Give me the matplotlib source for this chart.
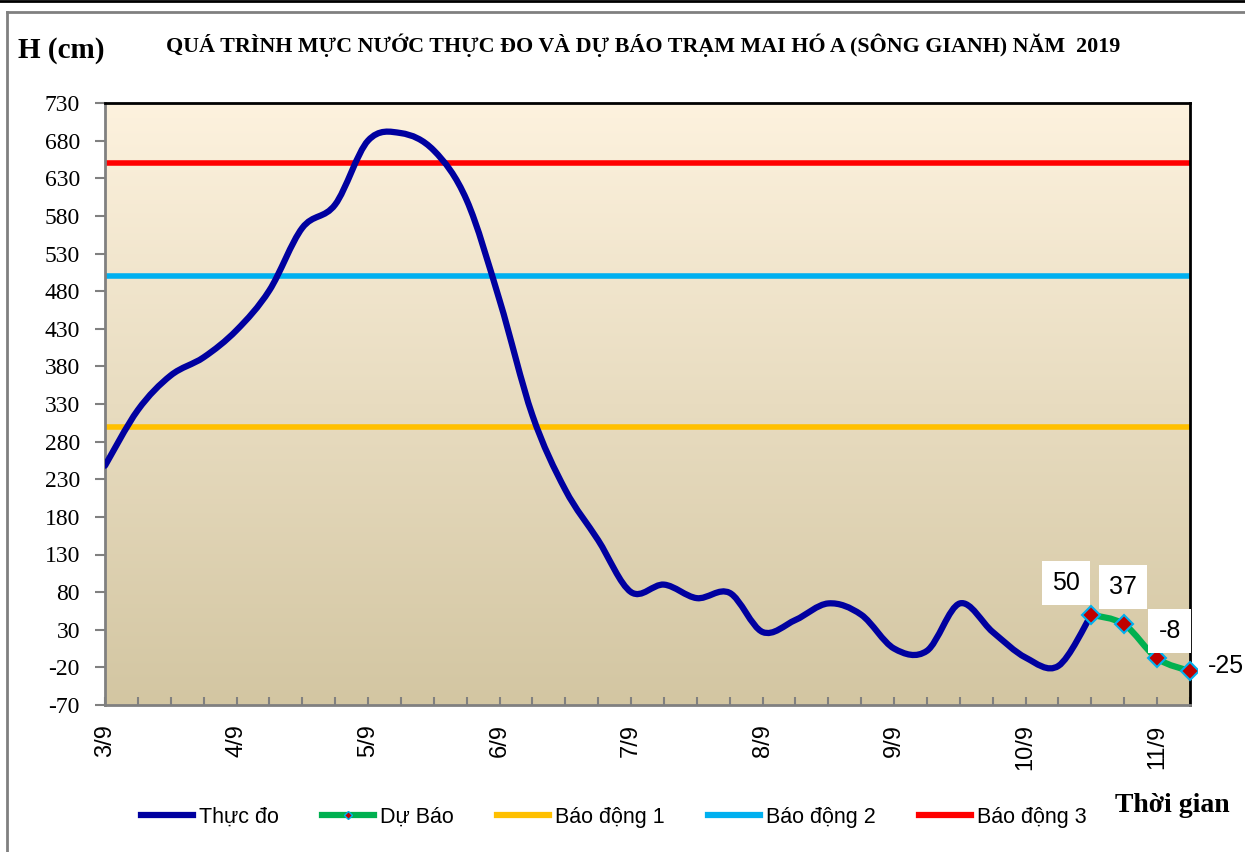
import numpy as np
import matplotlib.pyplot as plt
from matplotlib.path import Path
from matplotlib.patches import PathPatch
from matplotlib.lines import Line2D

# Muc nuoc thuc do (cm), moi diem cach nhau 6 gio, bat dau 3/9
thuc_do = [248, 322, 368, 392, 428, 481, 564, 595, 680, 690,
           667, 601, 468, 315, 216, 149, 80, 90, 72, 79,
           27, 43, 65, 50, 5, 2, 65, 27, -7, -18, 50]

# Du bao (cm), 4 diem cuoi
du_bao = [50, 37, -8, -25]
du_bao_start = 30

# Muc bao dong
bao_dong = [300, 500, 650]
bao_dong_names = ["Báo động 1", "Báo động 2", "Báo động 3"]
bao_dong_colors = ["#FFC000", "#00B0F0", "#FF0000"]

ngay = ["3/9", "4/9", "5/9", "6/9", "7/9", "8/9", "9/9", "10/9", "11/9"]
y_ticks = list(range(730, -71, -50))

SERIF = "Liberation Serif"
SANS = "Liberation Sans"


def smooth_path(xs, ys):
    # duong cong Bezier kieu "smoothed line" cua Excel
    pts = np.column_stack([xs, ys]).astype(float)
    n = len(pts)
    verts = [pts[0]]
    codes = [Path.MOVETO]
    for i in range(n - 1):
        p0 = pts[i - 1] if i > 0 else pts[i]
        p1 = pts[i]
        p2 = pts[i + 1]
        p3 = pts[i + 2] if i + 2 < n else pts[i + 1]
        c1 = p1 + (p2 - p0) / 6.0
        c2 = p2 - (p3 - p1) / 6.0
        verts += [c1, c2, p2]
        codes += [Path.CURVE4] * 3
    return Path(verts, codes)


fig = plt.figure(figsize=(12.45, 8.52), dpi=100)
ax = fig.add_axes([105 / 1245, 1 - 705 / 852, 1085 / 1245, 602 / 852])

# nen gradient
top = np.array([253, 242, 222]) / 255
bot = np.array([211, 198, 162]) / 255
t = np.linspace(0, 1, 256)[:, None]
grad = top * (1 - t) + bot * t
ax.imshow(grad[:, None, :], extent=[0, 33, -70, 730], aspect="auto",
          zorder=0, interpolation="bicubic")

# duong bao dong
for val, col in zip(bao_dong, bao_dong_colors):
    ax.axhline(val, color=col, lw=4, zorder=2)

# thuc do
x_td = np.arange(len(thuc_do))
ax.add_patch(PathPatch(smooth_path(x_td, thuc_do), fill=False,
                       edgecolor="#0000A0", lw=4.5, zorder=3,
                       capstyle="round", joinstyle="round"))

# du bao
x_db = np.arange(du_bao_start, du_bao_start + len(du_bao))
ax.add_patch(PathPatch(smooth_path(x_db, du_bao), fill=False,
                       edgecolor="#00B050", lw=4.5, zorder=4,
                       capstyle="round"))
ax.plot(x_db, du_bao, ls="none", marker="D", ms=9, mfc="#C00000",
        mec="#00B0F0", mew=1.5, zorder=5, clip_on=False)

# nhan du bao
offsets = [(-18, 23), (-1, 27), (9, 20), (26, 4)]
for xv, yv, off in zip(x_db, du_bao, offsets):
    ax.annotate(str(yv), (xv, yv), xytext=off, textcoords="offset points",
                ha="center", va="center", fontsize=18, family=SANS,
                bbox=dict(boxstyle="square,pad=0.4", fc="white", ec="none"),
                zorder=6, annotation_clip=False)

ax.set_xlim(0, 33)
ax.set_ylim(-70, 730)

xt = list(range(0, 34))
ax.set_xticks(xt)
ax.set_xticklabels([ngay[i // 4] if i % 4 == 0 else "" for i in xt],
                   rotation=90, fontsize=17, family=SANS)
ax.tick_params(axis="x", direction="in", length=6, width=1.5,
               color="#808080", pad=14)
ax.set_yticks(y_ticks)
ax.set_yticklabels([str(v) for v in y_ticks], fontsize=17, family=SERIF)
ax.tick_params(axis="y", direction="out", length=7, width=1.5,
               color="#808080", pad=11)

for s in ["top", "right"]:
    ax.spines[s].set_color("black")
    ax.spines[s].set_linewidth(2)
for s in ["left", "bottom"]:
    ax.spines[s].set_color("#808080")
    ax.spines[s].set_linewidth(2)

# chu thich
handles = [
    Line2D([], [], color="#0000A0", lw=4.5),
    Line2D([], [], color="#00B050", lw=4.5, marker="D", ms=4,
           mfc="#C00000", mec="#00B0F0"),
]
handles += [Line2D([], [], color=c, lw=4.5) for c in bao_dong_colors]
labels = ["Thực đo", "Dự Báo"] + bao_dong_names
fig.legend(handles, labels, loc="center", bbox_to_anchor=(614 / 1245, 1 - 817 / 852),
           ncol=5, frameon=False, handlelength=2.4, handletextpad=0.3,
           columnspacing=2.0, prop={"family": SANS, "size": 15.5})

fig.text(643 / 1245, 1 - 45 / 852,
         "QUÁ TRÌNH MỰC NƯỚC THỰC ĐO VÀ DỰ BÁO TRẠM MAI HÓ A (SÔNG GIANH) NĂM  2019",
         ha="center", va="center", family=SERIF, weight="bold", fontsize=15.8)
fig.text(18 / 1245, 1 - 50 / 852, "H (cm)", ha="left", va="center",
         family=SERIF, weight="bold", fontsize=21)
fig.text(1230 / 1245, 1 - 805 / 852, "Thời gian", ha="right", va="center",
         family=SERIF, weight="bold", fontsize=20)

# khung ngoai
fig.add_artist(Line2D([0, 1], [1 - 1 / 852, 1 - 1 / 852], color="black", lw=2))
fig.add_artist(Line2D([7 / 1245, 1], [1 - 12 / 852, 1 - 12 / 852],
                      color="#808080", lw=2))
fig.add_artist(Line2D([7 / 1245, 7 / 1245], [0, 1 - 12 / 852],
                      color="#808080", lw=2))

fig.savefig("out.png", dpi=100)
